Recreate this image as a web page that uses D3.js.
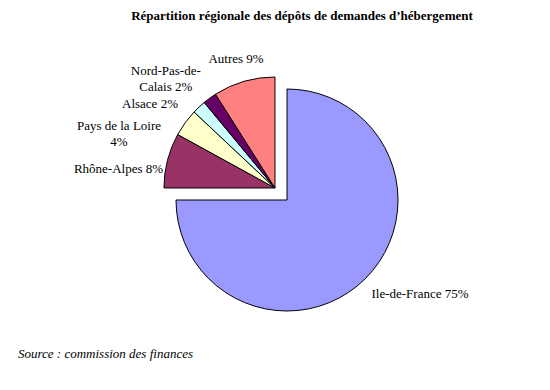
<!DOCTYPE html>
<html>
<head>
<meta charset="utf-8">
<script src="https://cdn.jsdelivr.net/npm/d3@7/dist/d3.min.js"></script>
<style>
  html, body { margin: 0; padding: 0; background: #fff; }
  svg { display: block; }
</style>
</head>
<body>
<svg id="chart" width="550" height="390"></svg>
<script>
// ---- data ----
const categories = ["Ile-de-France", "Rhône-Alpes", "Pays de la Loire", "Alsace", "Nord-Pas-de-Calais", "Autres"];
const values = [75, 8, 4, 2, 2, 9];
const colors = ["#9999FF", "#993366", "#FFFFCC", "#CCFFFF", "#660066", "#FF8080"];
const labelLines = [
  ["Ile-de-France 75%"],
  ["Rhône-Alpes 8%"],
  ["Pays de la Loire", "4%"],
  ["Alsace 2%"],
  ["Nord-Pas-de-", "Calais 2%"],
  ["Autres 9%"]
];
const title = "Répartition régionale des dépôts de demandes d’hébergement";
const source = "Source : commission des finances";

// ---- layout ----
const FONT = "Liberation Serif";
const cx = 287, cy = 200, R = 111;
const explodeDist = 17;      // small regions pulled out as a group
// label block centre, polar (degrees clockwise from 12 o'clock, distance) from slice centre
const labelPolar = [[125.1, 162.6], [277.1, 157.7], [289.2, 165.2], [303.9, 150.6], [315.1, 154.7], [343.2, 134.8]];
const lineH = 16.5;

const svg = d3.select("#chart").attr("font-family", FONT);

svg.append("text")
  .attr("x", 302).attr("y", 20)
  .attr("text-anchor", "middle")
  .attr("font-family", FONT)
  .attr("font-weight", "bold")
  .attr("font-size", 13)
  .text(title);

const pie = d3.pie().sort(null).value(d => d)(values);
const arc = d3.arc().innerRadius(0).outerRadius(R);

// group exploded slices (all but the first) along their combined bisector
const grpStart = pie[1].startAngle, grpEnd = pie[pie.length - 1].endAngle;
const grpMid = (grpStart + grpEnd) / 2;
const exDx = explodeDist * Math.sin(grpMid), exDy = -explodeDist * Math.cos(grpMid);

const polar = (deg, r) => [r * Math.sin(deg * Math.PI / 180), -r * Math.cos(deg * Math.PI / 180)];

pie.forEach((p, i) => {
  const ox = i === 0 ? cx : cx + exDx;
  const oy = i === 0 ? cy : cy + exDy;
  const g = svg.append("g").attr("transform", `translate(${ox},${oy})`);
  g.append("path")
    .attr("d", arc(p))
    .attr("fill", colors[i])
    .attr("stroke", "#000")
    .attr("stroke-width", 1)
    .attr("stroke-linejoin", "miter");

  const [lx, ly] = polar(labelPolar[i][0], labelPolar[i][1]);
  const lines = labelLines[i];
  const t = g.append("text")
    .attr("text-anchor", "middle")
    .attr("font-family", FONT)
    .attr("font-size", 13);
  lines.forEach((ln, k) => {
    t.append("tspan")
      .attr("x", lx)
      .attr("y", ly - (lines.length - 1) * lineH / 2 + k * lineH + 4.5)
      .text(ln);
  });
});

svg.append("text")
  .attr("x", 18).attr("y", 358)
  .attr("font-family", FONT)
  .attr("font-style", "italic")
  .attr("font-size", 13)
  .text(source);
</script>
</body>
</html>
